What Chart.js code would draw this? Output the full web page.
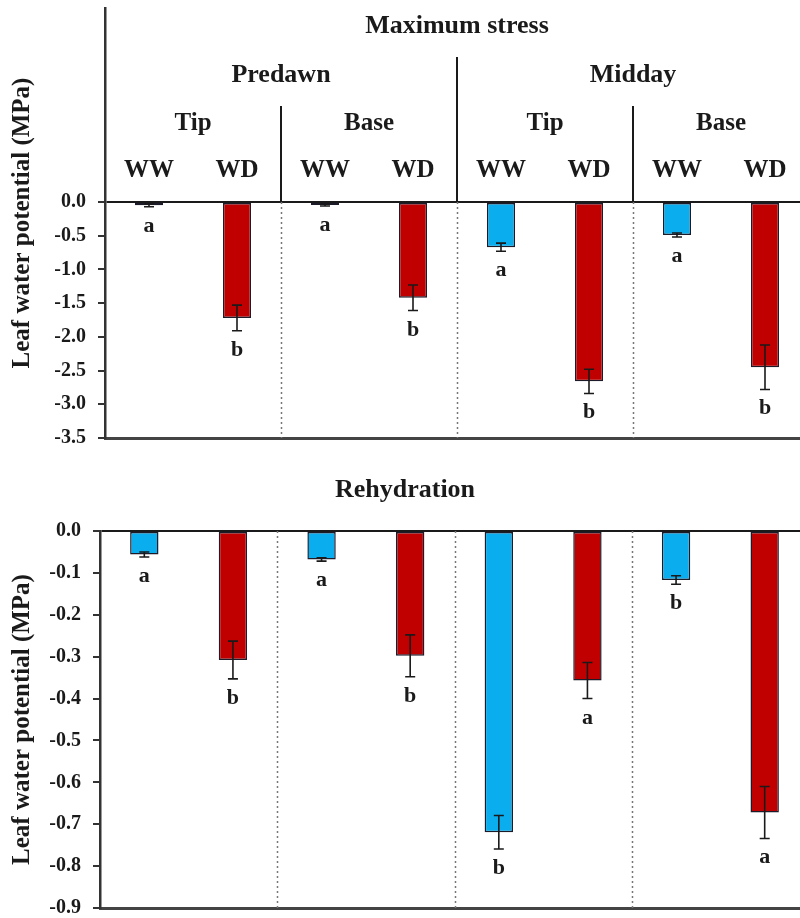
<!DOCTYPE html>
<html>
<head>
<meta charset="utf-8">
<script src="https://cdn.jsdelivr.net/npm/chart.js@4"></script>
<style>
  html, body { margin: 0; padding: 0; overflow: hidden; background: #fff; }
  #wrap { position: relative; width: 812px; height: 918px; }
  #top, #bottom { position: absolute; left: 0; }
  #top { top: 0; }
  #bottom { top: 450px; }
</style>
</head>
<body>
<div id="wrap">
  <canvas id="top" width="812" height="450"></canvas>
  <canvas id="bottom" width="812" height="468"></canvas>
</div>
<script>
// categorias: tip/base x predawn/midday, WW y WD
const treatments = ['WW', 'WD', 'WW', 'WD', 'WW', 'WD', 'WW', 'WD'];
const positions = ['Tip', 'Base', 'Tip', 'Base'];
const times = ['Predawn', 'Midday'];

// Maximum stress (MPa)
const stressMeans = [-0.05, -1.72, -0.045, -1.42, -0.67, -2.66, -0.49, -2.45];
const stressErr = [0.02, 0.19, 0.015, 0.19, 0.06, 0.18, 0.03, 0.33];
const stressLetters = ['a', 'b', 'a', 'b', 'a', 'b', 'a', 'b'];

// Rehydration (MPa)
const rehydMeans = [-0.056, -0.308, -0.068, -0.298, -0.719, -0.357, -0.117, -0.672];
const rehydErr = [0.006, 0.045, 0.004, 0.05, 0.04, 0.043, 0.01, 0.062];
const rehydLetters = ['a', 'b', 'a', 'b', 'b', 'a', 'b', 'a'];

const stressTicks = { min: -3.5, step: 0.5 };
const rehydTicks = { min: -0.9, step: 0.1 };

const FONT = "'Liberation Serif', 'Times New Roman', serif";
const BLUE = '#0AAEEE';
const RED = '#C00000';
const INK = '#1a1a1a';

const barColors = treatments.map(t => t === 'WW' ? BLUE : RED);

// barras de error + letras
function errorPlugin(means, errs, letters) {
  return {
    id: 'errorBars',
    afterDatasetsDraw(chart) {
      const { ctx, scales: { x, y } } = chart;
      ctx.save();
      ctx.strokeStyle = INK;
      ctx.lineWidth = 1.6;
      ctx.fillStyle = INK;
      ctx.font = 'bold 22px ' + FONT;
      ctx.textAlign = 'center';
      ctx.textBaseline = 'alphabetic';
      means.forEach((m, i) => {
        const cx = x.getPixelForValue(i);
        const y1 = y.getPixelForValue(m + errs[i]);
        const y2 = y.getPixelForValue(m - errs[i]);
        ctx.beginPath();
        ctx.moveTo(cx, y1); ctx.lineTo(cx, y2);
        ctx.moveTo(cx - 5, y1); ctx.lineTo(cx + 5, y1);
        ctx.moveTo(cx - 5, y2); ctx.lineTo(cx + 5, y2);
        ctx.stroke();
        ctx.fillText(letters[i], cx, y2 + 25);
      });
      ctx.restore();
    }
  };
}

// lineas punteadas entre grupos
const dividers = {
  id: 'dividers',
  beforeDatasetsDraw(chart) {
    const { ctx, scales: { x, y } } = chart;
    ctx.save();
    ctx.strokeStyle = '#777';
    ctx.lineWidth = 1.5;
    ctx.setLineDash([2, 3]);
    [1.5, 3.5, 5.5].forEach(v => {
      const px = Math.round(x.getPixelForValue(v)) + 0.5;
      ctx.beginPath();
      ctx.moveTo(px, y.getPixelForValue(0));
      ctx.lineTo(px, y.bottom);
      ctx.stroke();
    });
    ctx.restore();
  }
};

// encabezados del grafico de arriba
const headers = {
  id: 'headers',
  afterDraw(chart) {
    const { ctx, scales: { x, y } } = chart;
    const zero = y.getPixelForValue(0);
    ctx.save();
    ctx.fillStyle = INK;
    ctx.textAlign = 'center';
    ctx.textBaseline = 'alphabetic';
    ctx.font = 'bold 26px ' + FONT;
    ctx.fillText('Maximum stress', x.getPixelForValue(3.5), 33);
    times.forEach((t, i) => ctx.fillText(t, x.getPixelForValue(1.5 + i * 4), 82));
    ctx.font = 'bold 25px ' + FONT;
    positions.forEach((p, i) => ctx.fillText(p, x.getPixelForValue(0.5 + i * 2), 130));
    treatments.forEach((t, i) => ctx.fillText(t, x.getPixelForValue(i), 177));

    ctx.strokeStyle = INK;
    ctx.lineWidth = 2;
    [[1.5, 106], [3.5, 57], [5.5, 106]].forEach(([v, top]) => {
      const px = Math.round(x.getPixelForValue(v));
      ctx.beginPath();
      ctx.moveTo(px, top);
      ctx.lineTo(px, zero);
      ctx.stroke();
    });
    ctx.restore();
  }
};

const subTitle = {
  id: 'subTitle',
  afterDraw(chart) {
    const { ctx } = chart;
    ctx.save();
    ctx.fillStyle = INK;
    ctx.textAlign = 'center';
    ctx.font = 'bold 26px ' + FONT;
    ctx.fillText('Rehydration', 405, 47);
    ctx.restore();
  }
};

function makeChart(id, means, errs, letters, tickSet, yMax, axisWidth, pad, extra) {
  return new Chart(document.getElementById(id), {
    type: 'bar',
    data: {
      labels: treatments,
      datasets: [{
        data: means,
        backgroundColor: barColors,
        borderColor: '#1b1b2a',
        borderWidth: 1.5,
        borderSkipped: false,
        barPercentage: 0.32,
        categoryPercentage: 1
      }]
    },
    options: {
      responsive: false,
      animation: false,
      layout: { padding: pad },
      plugins: { legend: { display: false }, tooltip: { enabled: false } },
      scales: {
        x: {
          ticks: { display: false },
          grid: { display: false, drawTicks: false },
          border: { display: true, color: '#444', width: 3 },
          afterFit: s => { s.height = 0; s.paddingLeft = 0; s.paddingRight = 0; }
        },
        y: {
          min: tickSet.min,
          max: yMax,
          ticks: {
            stepSize: tickSet.step,
            padding: 12,
            color: INK,
            font: { family: FONT, size: 20, weight: 'bold' },
            callback: v => v.toFixed(1)
          },
          afterBuildTicks: s => { s.ticks = s.ticks.filter(t => t.value <= 1e-9); },
          grid: {
            drawOnChartArea: true,
            color: c => (c.tick && Math.abs(c.tick.value) < 1e-9) ? INK : 'rgba(0,0,0,0)',
            lineWidth: 2,
            tickColor: '#333',
            tickLength: 7,
            tickWidth: 2
          },
          border: { display: true, color: '#333', width: 2.5 },
          title: {
            display: true,
            text: 'Leaf water potential (MPa)',
            color: INK,
            font: { family: FONT, size: 25, weight: 'bold' },
            padding: { top: 8, bottom: 0 }
          },
          afterFit: s => { s.width = axisWidth; s.paddingTop = 0; s.paddingBottom = 0; }
        }
      }
    },
    plugins: [dividers, errorPlugin(means, errs, letters)].concat(extra)
  });
}

makeChart('top', stressMeans, stressErr, stressLetters, stressTicks, 2.877, 105,
  { top: 8, right: 3, bottom: 12, left: 0 }, [headers]);
makeChart('bottom', rehydMeans, rehydErr, rehydLetters, rehydTicks, 0, 100,
  { top: 81, right: 3, bottom: 10, left: 0 }, [subTitle]);
</script>
</body>
</html>
